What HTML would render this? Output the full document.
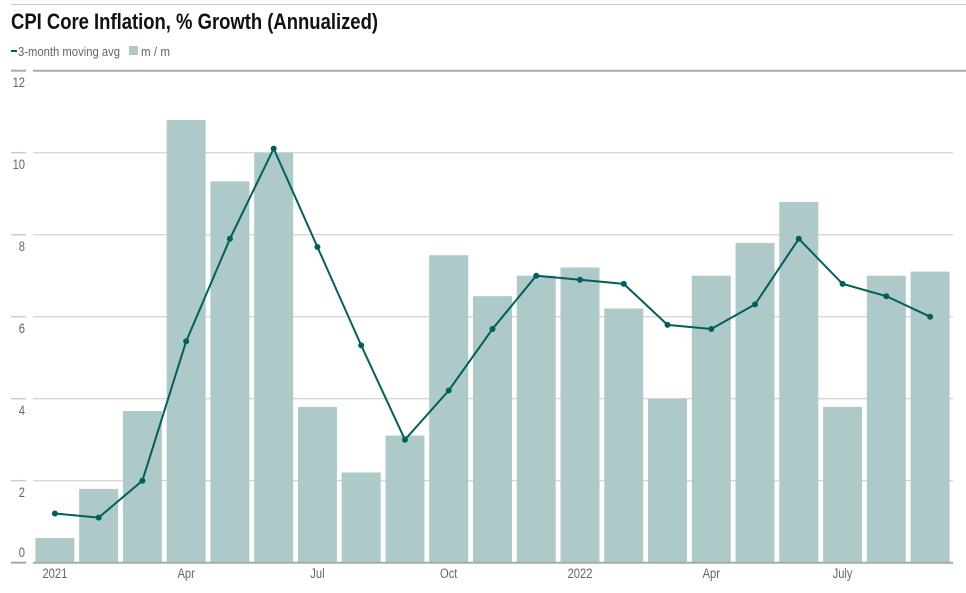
<!DOCTYPE html>
<html><head><meta charset="utf-8"><style>
body{margin:0;background:#fff;width:966px;height:588px;overflow:hidden;font-family:"Liberation Sans",sans-serif}
</style></head><body>
<svg width="966" height="588" xmlns="http://www.w3.org/2000/svg" font-family="'Liberation Sans',sans-serif">
<line x1="11" y1="4.5" x2="966" y2="4.5" stroke="#c8c8c8" stroke-width="1"/>
<text x="11" y="29" font-size="22" font-weight="bold" fill="#111" textLength="367" lengthAdjust="spacingAndGlyphs">CPI Core Inflation, % Growth (Annualized)</text>
<rect x="11" y="50" width="6" height="2" fill="#00605c"/>
<text x="18" y="56" font-size="13" fill="#666" textLength="102" lengthAdjust="spacingAndGlyphs">3-month moving avg</text>
<rect x="129" y="46" width="9" height="9" fill="#adc9c8"/>
<text x="141" y="56" font-size="13" fill="#666" textLength="29" lengthAdjust="spacingAndGlyphs">m / m</text>
<g id="grid"></g>
<g id="bars"></g>
<g id="line"></g>
<g id="lbl" font-size="14" fill="#666"></g>
</svg>
<script>
const ns="http://www.w3.org/2000/svg";
function el(p,t,a,txt){const e=document.createElementNS(ns,t);for(const k in a)e.setAttribute(k,a[k]);if(txt!=null)e.textContent=txt;document.getElementById(p).appendChild(e);return e;}
const base=562.7,u=41,x0=33,bw=43.76;
const y=v=>base-v*u;
function nt(x,yy,anchor,t){el('lbl','text',{transform:`translate(${x},${yy}) scale(0.8,1)`,'text-anchor':anchor},t);}
for(let v=0;v<=12;v+=2){
  const yy=y(v);
  el('grid','line',{x1:11,x2:26,y1:yy,y2:yy,stroke:v==0||v==12?'#aaa':'#ccc','stroke-width':v==0||v==12?2:1.5});
  if(v>0&&v<12) el('grid','line',{x1:x0,x2:953,y1:yy,y2:yy,stroke:'#c8c8c8','stroke-width':1});
  nt(25,v==0?yy-5.5:yy+16.5,'end',String(v));
}
el('grid','line',{x1:x0,x2:966,y1:y(12),y2:y(12),stroke:'#aaa','stroke-width':2});
const bars=[0.6,1.8,3.7,10.8,9.3,10.0,3.8,2.2,3.1,7.5,6.5,7.0,7.2,6.2,4.0,7.0,7.8,8.8,3.8,7.0,7.1];
const ln=[1.2,1.1,2.0,5.4,7.9,10.1,7.7,5.3,3.0,4.2,5.7,7.0,6.9,6.8,5.8,5.7,6.3,7.9,6.8,6.5,6.0];
let pts=[];
bars.forEach((v,i)=>{
  const cx=x0+bw*(i+0.5);
  el('bars','rect',{x:cx-19.5,y:y(v),width:39,height:v*u,fill:'#adc9c8'});
  pts.push(cx+','+y(ln[i]));
});
el('bars','line',{x1:x0,x2:953,y1:base,y2:base,stroke:'#aaa','stroke-width':2});
el('line','polyline',{points:pts.join(' '),fill:'none',stroke:'#00605c','stroke-width':2});
ln.forEach((v,i)=>el('line','circle',{cx:x0+bw*(i+0.5),cy:y(v),r:3,fill:'#00605c'}));
[[0,'2021'],[3,'Apr'],[6,'Jul'],[9,'Oct'],[12,'2022'],[15,'Apr'],[18,'July']].forEach(([i,t])=>
  nt(x0+bw*(i+0.5),578,'middle',t));
</script>
</body></html>
